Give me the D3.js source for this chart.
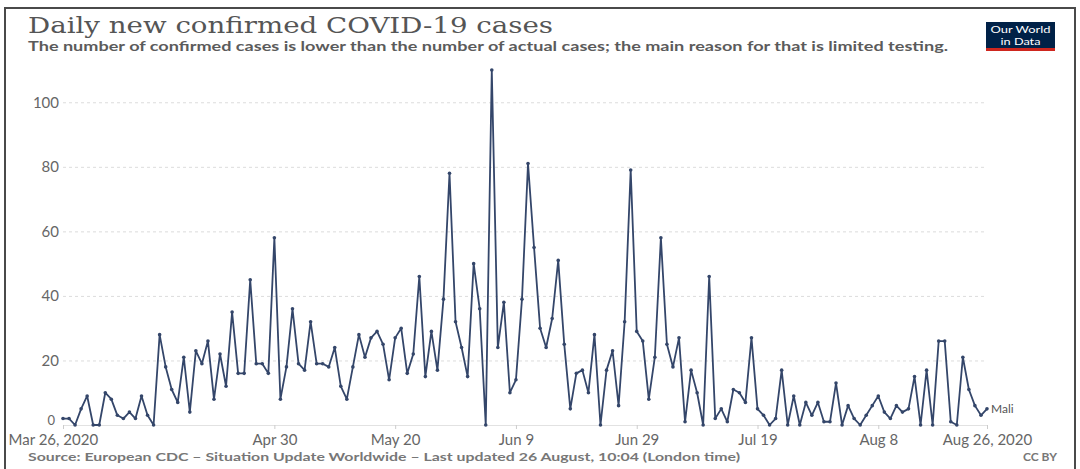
<!DOCTYPE html>
<html>
<head>
<meta charset="utf-8">
<script src="https://cdn.jsdelivr.net/npm/d3@7"></script>
<style>
  body { margin: 0; background: #fff; }
  text { font-family: Lato, "Open Sans", sans-serif; }
</style>
</head>
<body>
<script>
// daily new confirmed cases, Mali, starting Mar 26 2020 (one value per day)
var startDate = "2020-03-26";
var cases = [
    2, 2, 0, 5, 9, 0, 0, 10, 8, 3, 2, 4, 2, 9, 3, 0, 28, 18, 11, 7, 21, 4, 23, 19, 26, 8,
    22, 12, 35, 16, 16, 45, 19, 19, 16, 58, 8, 18, 36, 19, 17, 32, 19, 19, 18, 24, 12, 8, 18, 28,
    21, 27, 29, 25, 14, 27, 30, 16, 22, 46, 15, 29, 17, 39, 78, 32, 24, 15, 50, 36, 0, 110, 24, 38, 10,
    14, 39, 81, 55, 30, 24, 33, 51, 25, 5, 16, 17, 10, 28, 0, 17, 23, 6, 32, 79,
    29, 26, 8, 21, 58, 25, 18, 27, 1, 17, 10, 0, 46, 2, 5, 1, 11, 10, 7, 27, 5,
    3, 0, 2, 17, 0, 9, 0, 7, 3, 7, 1, 1, 13, 0, 6, 2, 0, 3, 6, 9,
    4, 2, 6, 4, 5, 15, 0, 17, 0, 26, 26, 1, 0, 21, 11, 6, 3, 5
];
var yTicks = [0, 20, 40, 60, 80, 100];
var xTicks = ["2020-03-26", "2020-04-30", "2020-05-20", "2020-06-09", "2020-06-29", "2020-07-19", "2020-08-08", "2020-08-26"];
var xTickLabels = ["Mar 26, 2020", "Apr 30", "May 20", "Jun 9", "Jun 29", "Jul 19", "Aug 8", "Aug 26, 2020"];

var w = 1080, h = 469;
var parse = d3.timeParse("%Y-%m-%d");

// build the date/value rows
var start = parse(startDate);
var data = cases.map(function(v, i){
    return { date: d3.timeDay.offset(start, i), value: v };
});

var svg = d3.select("body")
    .append("svg")
    .attr("width", w)
    .attr("height", h);

// outer frame of the screenshot
svg.append("rect")
    .attr("x", 5)
    .attr("y", 8)
    .attr("width", 1070)
    .attr("height", 480)
    .style("fill", "#fff")
    .style("stroke", "#4a4a4a")
    .style("stroke-width", 2);

// scales
var x = d3.scaleTime()
    .domain([start, data[data.length - 1].date])
    .range([63, 987]);

var y = d3.scaleLinear()
    .domain([0, 110])
    .range([425, 70]);

// dashed gridlines + y labels
var yAxis = d3.axisLeft(y)
    .tickValues(yTicks)
    .tickSize(-(987 - 63))
    .tickPadding(8)
    .tickFormat(d3.format("d"));

var gy = svg.append("g")
    .attr("transform", "translate(63,0)")
    .call(yAxis);
gy.select(".domain").remove();
gy.selectAll(".tick line")
    .style("stroke", "#dcdcdc")
    .style("stroke-dasharray", "3,3")
    .attr("x1", 0);
gy.selectAll(".tick text")
    .attr("x", -4)
    .style("font-size", "15px")
    .style("fill", "#666");
var zeroTick = gy.selectAll(".tick").filter(function(d){ return d === 0; });
zeroTick.select("line")
    .style("stroke-dasharray", null)
    .style("stroke", "#e2e2e2");
// zero label sits a little higher, above the first date label
zeroTick.select("text")
    .attr("dy", "-0.05em")
    .attr("x", -8)
    .style("font-size", "13px");

// x axis
var xAxis = d3.axisBottom(x)
    .tickValues(xTicks.map(parse))
    .tickSize(4)
    .tickPadding(5)
    .tickFormat(function(d, i){ return xTickLabels[i]; });

var gx = svg.append("g")
    .attr("transform", "translate(0,425)")
    .call(xAxis);
gx.select(".domain").style("stroke", "#e2e2e2");
gx.selectAll(".tick line").style("stroke", "#ccc");
gx.selectAll(".tick text")
    .style("font-size", "15px")
    .style("fill", "#666");
// first label kept inside the frame
gx.selectAll(".tick text").filter(function(d, i){ return i === 0; })
    .attr("text-anchor", "start")
    .attr("x", 8 - 63);

// the line
var line = d3.line()
    .x(function(d){ return x(d.date); })
    .y(function(d){ return y(d.value); });

svg.append("path")
    .datum(data)
    .attr("d", line)
    .style("fill", "none")
    .style("stroke", "#34466a")
    .style("stroke-width", 1.8)
    .style("stroke-linejoin", "round");

svg.selectAll(".dot")
    .data(data)
    .enter()
    .append("circle")
    .attr("class", "dot")
    .attr("cx", function(d){ return x(d.date); })
    .attr("cy", function(d){ return y(d.value); })
    .attr("r", 1.8)
    .style("fill", "#34466a");

// series label
var last = data[data.length - 1];
svg.append("text")
    .attr("x", x(last.date) + 4)
    .attr("y", y(last.value) + 4)
    .style("font-size", "12px")
    .style("fill", "#555")
    .text("Mali");

// title and subtitle
svg.append("text")
    .attr("x", 28)
    .attr("y", 33)
    .attr("textLength", 525)
    .attr("lengthAdjust", "spacingAndGlyphs")
    .style("font-family", "'DejaVu Serif', serif")
    .style("font-size", "23px")
    .style("fill", "#555")
    .text("Daily new confirmed COVID-19 cases");

svg.append("text")
    .attr("x", 28)
    .attr("y", 51)
    .attr("textLength", 920)
    .attr("lengthAdjust", "spacingAndGlyphs")
    .style("font-size", "13px")
    .style("font-weight", "bold")
    .style("fill", "#5b5b5b")
    .text("The number of confirmed cases is lower than the number of actual cases; the main reason for that is limited testing.");

// OWID logo
var logo = svg.append("g").attr("transform", "translate(986,22)");
logo.append("rect")
    .attr("width", 69)
    .attr("height", 29)
    .style("fill", "#002147");
logo.append("rect")
    .attr("y", 26)
    .attr("width", 69)
    .attr("height", 3)
    .style("fill", "#ce261e");
logo.append("text")
    .attr("x", 34.5)
    .attr("y", 11)
    .attr("text-anchor", "middle")
    .attr("textLength", 60)
    .attr("lengthAdjust", "spacingAndGlyphs")
    .style("font-size", "10px")
    .style("fill", "#fff")
    .text("Our World");
logo.append("text")
    .attr("x", 34.5)
    .attr("y", 23)
    .attr("text-anchor", "middle")
    .attr("textLength", 40)
    .attr("lengthAdjust", "spacingAndGlyphs")
    .style("font-size", "10px")
    .style("fill", "#fff")
    .text("in Data");

// footer
svg.append("text")
    .attr("x", 28)
    .attr("y", 461)
    .attr("textLength", 712)
    .attr("lengthAdjust", "spacingAndGlyphs")
    .style("font-size", "12px")
    .style("font-weight", "bold")
    .style("fill", "#777")
    .text("Source: European CDC \u2013 Situation Update Worldwide \u2013 Last updated 26 August, 10:04 (London time)");

svg.append("text")
    .attr("x", 1057)
    .attr("y", 461)
    .attr("text-anchor", "end")
    .style("font-size", "12px")
    .style("font-weight", "bold")
    .style("fill", "#777")
    .text("CC BY");
</script>
</body>
</html>
